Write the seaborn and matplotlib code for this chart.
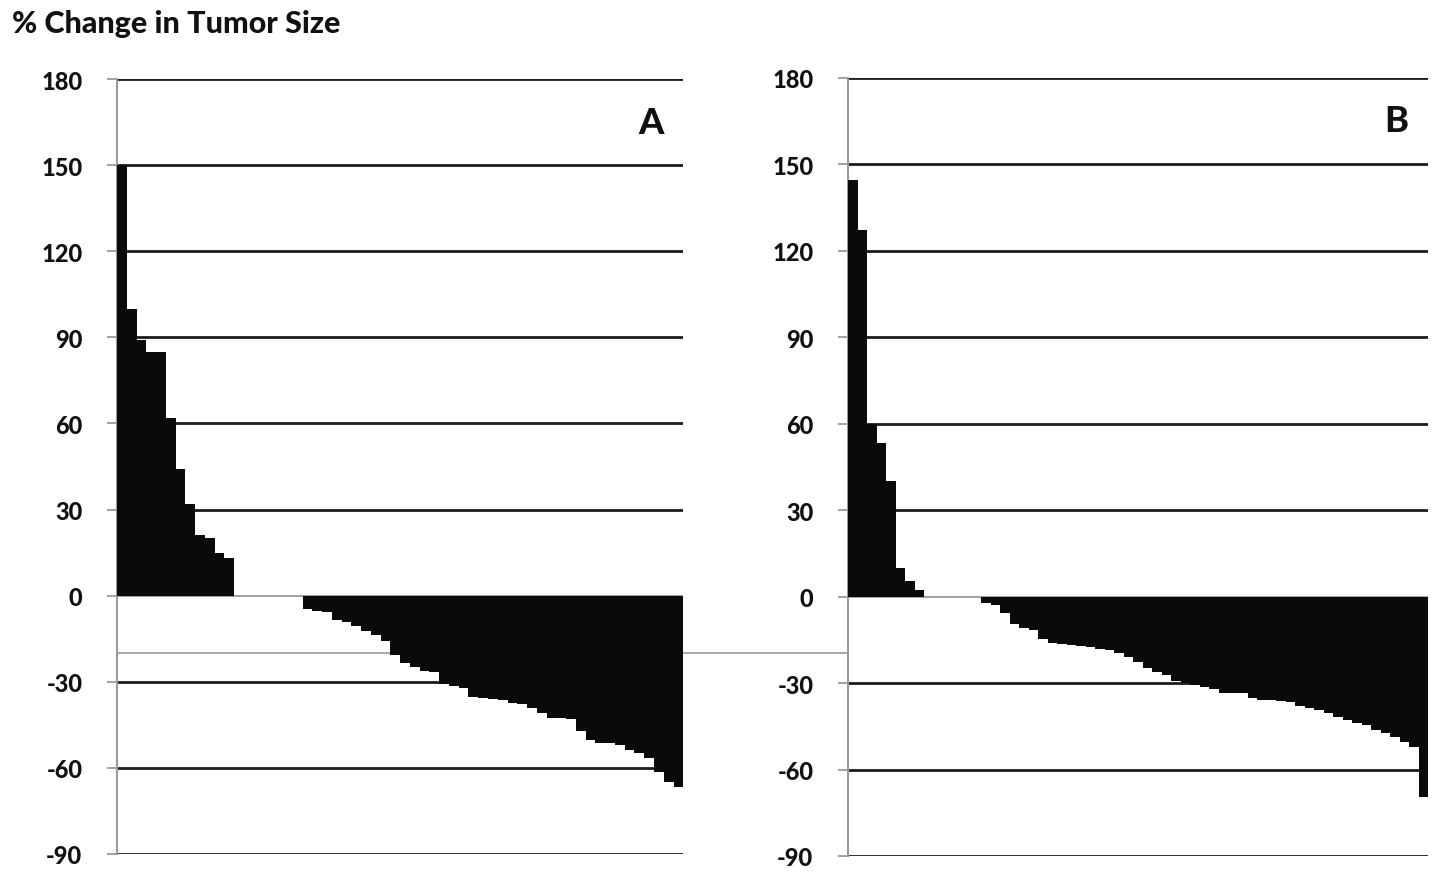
import matplotlib
matplotlib.use("Agg")
import matplotlib.pyplot as plt
import seaborn as sns
import pandas as pd

# ---- data ----
panel_a_values = [150, 100, 89, 85, 85, 62, 44, 32, 21, 20, 15, 13,
                  0, 0, 0, 0, 0, 0, 0,
                  -4.5, -5.2, -5.8, -8.4, -9.3, -10.7, -12.2, -13.6, -15.9, -20.6,
                  -23.3, -25, -26.2, -26.6, -30.8, -31.3, -32.2, -35.3, -35.8, -36,
                  -36.3, -37.4, -37.8, -39.2, -41, -42.5, -42.7, -43, -47.3, -50.2,
                  -51.2, -51.5, -52, -53.7, -54.9, -56.6, -61.6, -65, -66.7]
panel_b_values = [144.5, 127.3, 60, 53.5, 40, 9.8, 5.4, 2.3,
                  0, 0, 0, 0, 0, 0,
                  -2.1, -2.9, -5.8, -9.5, -11, -11.6, -14.8, -16, -16.6, -16.8,
                  -17.1, -17.6, -18, -18.5, -19.7, -20.9, -22.6, -24.6, -26.1, -27.2,
                  -29.3, -29.9, -30.5, -31.3, -32.1, -33.4, -33.6, -33.6, -35.3, -35.7,
                  -35.9, -36.2, -36.5, -37.9, -38.5, -39.4, -40.3, -41.7, -42.9, -43.8,
                  -44.6, -46.1, -47.3, -48.7, -50.4, -52.1, -69.5]
y_ticks = [-90, -60, -30, 0, 30, 60, 90, 120, 150, 180]
panel_labels = ["A", "B"]
title = "% Change in Tumor Size"
reference_level = -20

sns.set_theme(style="white")
plt.rcParams["font.family"] = ["Lato", "Open Sans", "DejaVu Sans"]

W, H = 1441, 879
fig = plt.figure(figsize=(W / 100, H / 100), dpi=100)

def px_axes(left, right, top, bottom):
    return fig.add_axes([left / W, 1 - bottom / H, (right - left) / W, (bottom - top) / H])

axA = px_axes(117, 683.3, 80, 855)
axB = px_axes(848, 1428.3, 79, 857)

grid_col = "#1c1c1c"
axis_col = "#9a9a9a"
weight = "black"

for ax, vals, lab, lab_xy in [(axA, panel_a_values, panel_labels[0], (651, 124)),
                              (axB, panel_b_values, panel_labels[1], (1396, 121))]:
    df = pd.DataFrame({"patient": list(range(len(vals))), "change": vals})
    sns.barplot(data=df, x="patient", y="change", ax=ax, color="#0a0a0a",
                width=1.0, saturation=1, linewidth=0, edgecolor="none", zorder=3)
    ax.set_xlim(-0.5, len(vals) - 0.5)
    ax.set_ylim(-90, 180)
    ax.set_yticks(y_ticks)
    ax.set_yticklabels([str(t) for t in y_ticks], fontsize=17, fontweight=weight,
                       color="#111111")
    ax.set_xticks([])
    ax.set_xlabel("")
    ax.set_ylabel("")
    for t in y_ticks:
        if t == 0:
            continue
        ax.axhline(t, color=grid_col, lw=2, zorder=1)
    ax.axhline(0, color=axis_col, lw=1.3, zorder=2)
    for s in ["top", "right", "bottom"]:
        ax.spines[s].set_visible(False)
    ax.spines["left"].set_color(axis_col)
    ax.spines["left"].set_linewidth(1.5)
    ax.tick_params(axis="y", left=True, length=7, width=1.3, color=axis_col, pad=18)
    ax.set_facecolor("white")
    ax.patch.set_alpha(0)
    fig.text(lab_xy[0] / W, 1 - lab_xy[1] / H, lab, fontsize=26, fontweight=weight,
             ha="center", va="center", color="#111111")

# thin gray reference line running from panel A to panel B
axA.axhline(reference_level, xmin=0, xmax=(848 - 117) / (683.3 - 117),
            color=axis_col, lw=1.2, zorder=0.5, clip_on=False)

fig.text(12 / W, 1 - 24 / H, title, fontsize=22, fontweight=weight,
         ha="left", va="center", color="#111111")

fig.savefig("out.png", dpi=100, facecolor="white")
